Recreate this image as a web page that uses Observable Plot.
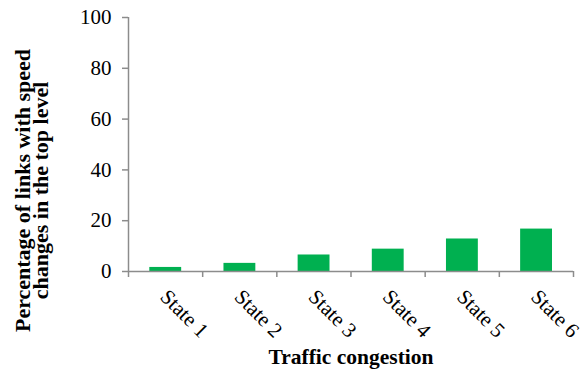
<!DOCTYPE html>
<html><head>
<meta charset="utf-8">
<script src="https://cdn.jsdelivr.net/npm/d3@7"></script>
<script src="https://cdn.jsdelivr.net/npm/@observablehq/plot@0.6"></script>
<style>
body{margin:0;background:#fff}
#chart svg, #chart svg text {font-family: "Liberation Serif", "Times New Roman", serif !important;}
</style>
</head><body><div id="chart"></div>
<script>
const categories = ["State 1","State 2","State 3","State 4","State 5","State 6"];
const values = [1.6, 3.2, 6.5, 8.8, 12.8, 16.7];
const yTicks = [0, 20, 40, 60, 80, 100];
const xBoundaries = [0, 1, 2, 3, 4, 5, 6];
const xTitle = "Traffic congestion";
const yTitle = "Percentage of links with speed\nchanges in the top level";

const data = categories.map((c, i) => ({category: c, index: i, value: values[i]}));
const axisColor = "#8c8c8c";
const serif = "Liberation Serif";

const plot = Plot.plot({
  width: 581, height: 372,
  marginLeft: 128, marginRight: 8, marginTop: 17, marginBottom: 101,
  style: {fontFamily: serif, background: "#fff", color: "#000", overflow: "visible"},
  x: {type: "linear", domain: [0, 6], axis: null},
  y: {domain: [0, 100], axis: null},
  marks: [
    Plot.rectY(data, {x1: "index", x2: d => d.index + 1, y: "value", fill: "#00B050", insetLeft: 21.3, insetRight: 21}),
    Plot.axisY({ticks: yTicks, label: null, tickSize: 6, tickPadding: 11, fontSize: 21, fontFamily: serif, stroke: axisColor, strokeWidth: 1.5, fill: "#000"}),
    Plot.axisX({ticks: xBoundaries, label: null, tickSize: 6, tickFormat: () => "", stroke: axisColor, strokeWidth: 1.5}),
    Plot.ruleX([0], {y1: 0, y2: 100, stroke: axisColor, strokeWidth: 1.5}),
    Plot.ruleY([0], {x1: 0, x2: 6, stroke: axisColor, strokeWidth: 1.5}),
    Plot.text(data, {x: d => d.index + 0.5, y: 0, text: "category", rotate: 45, textAnchor: "start", lineAnchor: "top", dx: 4, dy: 16, fontSize: 21, fontFamily: serif}),
    Plot.text([xTitle], {frameAnchor: "bottom", textAnchor: "middle", dy: 86, lineAnchor: "middle", fontWeight: "bold", fontSize: 21.5, fontFamily: serif}),
    Plot.text([yTitle], {frameAnchor: "left", textAnchor: "middle", rotate: -90, dx: -95, dy: 46, lineAnchor: "middle", lineHeight: 0.8, fontWeight: "bold", fontSize: 22, fontFamily: serif})
  ]
});
document.getElementById("chart").appendChild(plot);
</script>
</body></html>
